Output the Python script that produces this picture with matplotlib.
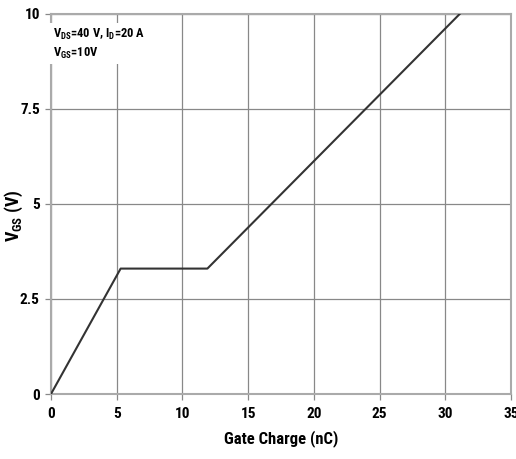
import matplotlib.pyplot as plt
from matplotlib import font_manager

# Gate charge curve (nC vs V)
qg = [0, 5.3, 11.9, 31.1]
vgs = [0, 3.3, 3.3, 10]
xticks = [0, 5, 10, 15, 20, 25, 30, 35]
yticks = [0, 2.5, 5, 7.5, 10]
ytick_labels = ["0", "2.5", "5", "7.5", "10"]

# pick a condensed bold face close to Arial Narrow Bold
candidates = ["Liberation Sans Narrow", "Roboto Condensed", "PT Sans Narrow",
              "Open Sans Condensed", "Archivo Narrow", "Asap Condensed",
              "Barlow Semi Condensed"]
bold_faces = {f.name for f in font_manager.fontManager.ttflist
              if isinstance(f.weight, int) and f.weight >= 700 and f.style == "normal"}
fam = next((c for c in candidates if c in bold_faces), "Liberation Sans")
plt.rcParams["font.family"] = [fam, "DejaVu Sans"]
plt.rcParams["mathtext.fontset"] = "custom"
plt.rcParams["mathtext.rm"] = fam + ":bold"
plt.rcParams["mathtext.it"] = fam + ":bold"
plt.rcParams["mathtext.bf"] = fam + ":bold"

fig = plt.figure(figsize=(5.16, 4.59), dpi=100)
ax = fig.add_axes([0.0988, 0.1416, 0.8915, 0.828])

ax.plot(qg, vgs, color="#333333", lw=1.5, zorder=3)

ax.set_xlim(0, 35)
ax.set_ylim(0, 10)
ax.set_xticks(xticks)
ax.set_yticks(yticks)
ax.set_yticklabels(ytick_labels)
ax.grid(True, color="#888888", lw=0.9)
for s in ax.spines.values():
    s.set_color("#aaaaaa")
    s.set_linewidth(1.5)
ax.tick_params(length=4, width=0.9, color="#888888", labelsize=11, pad=4)
ax.tick_params(axis="x", pad=5)
for lab in ax.get_xticklabels() + ax.get_yticklabels():
    lab.set_fontweight("bold")

ax.set_xlabel("Gate Charge (nC)", fontsize=12, fontweight="bold")
ax.xaxis.set_label_coords(0.5, -0.095)
ax.set_ylabel(r"V$_{\mathregular{GS}}$ (V)", fontsize=13, fontweight="bold")
ax.yaxis.set_label_coords(-0.057, 0.47)

ax.text(0.15, 9.66, r"V$_{\mathregular{DS}}$=40 V, I$_{\mathregular{D}}$=20 A" + "\n" + r"V$_{\mathregular{GS}}$=10V",
        fontsize=9, fontweight="bold", va="top", ha="left", linespacing=1.35,
        bbox=dict(facecolor="white", edgecolor="none", pad=2.5), zorder=4)

fig.savefig("out.png", dpi=100)
